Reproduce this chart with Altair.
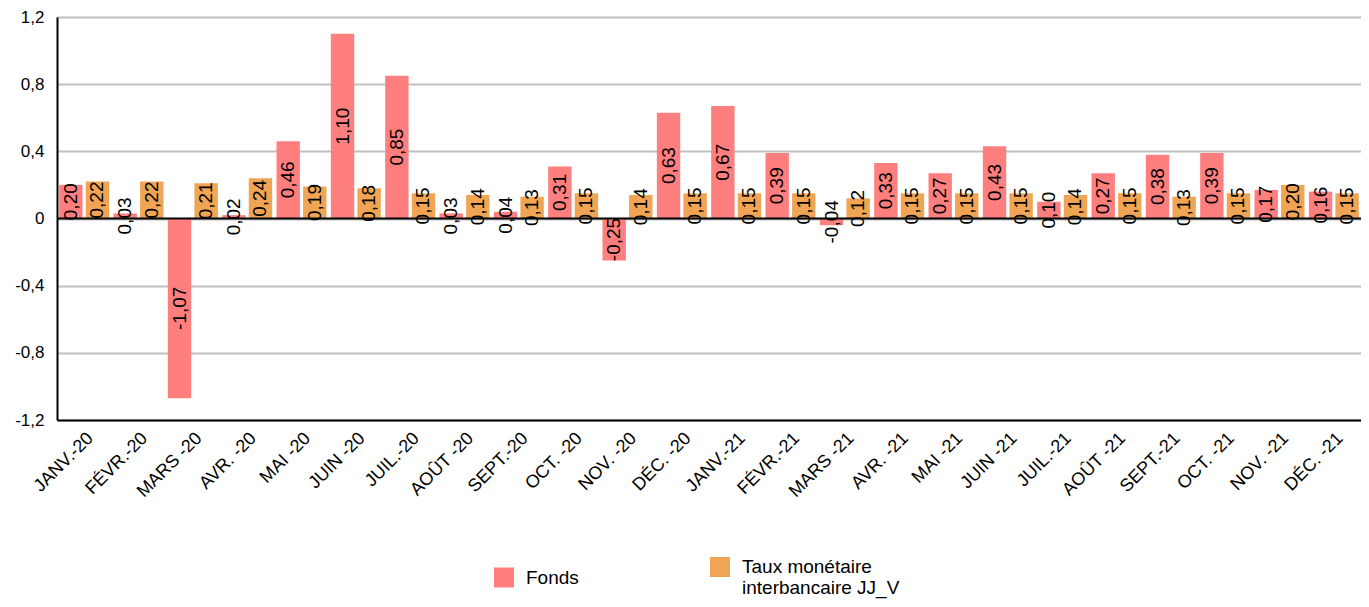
import altair as alt
import pandas as pd

months = ["JANV.-20", "FÉVR.-20", "MARS -20", "AVR. -20", "MAI -20", "JUIN -20",
          "JUIL.-20", "AOÛT -20", "SEPT.-20", "OCT. -20", "NOV. -20", "DÉC. -20",
          "JANV.-21", "FÉVR.-21", "MARS -21", "AVR. -21", "MAI -21", "JUIN -21",
          "JUIL.-21", "AOÛT -21", "SEPT.-21", "OCT. -21", "NOV. -21", "DÉC. -21"]
fonds = [0.20, 0.03, -1.07, 0.02, 0.46, 1.10, 0.85, 0.03, 0.04, 0.31, -0.25, 0.63,
         0.67, 0.39, -0.04, 0.33, 0.27, 0.43, 0.10, 0.27, 0.38, 0.39, 0.17, 0.16]
taux = [0.22, 0.22, 0.21, 0.24, 0.19, 0.18, 0.15, 0.14, 0.13, 0.15, 0.14, 0.15,
        0.15, 0.15, 0.12, 0.15, 0.15, 0.15, 0.14, 0.15, 0.13, 0.15, 0.20, 0.15]
series = ["Fonds", "Taux monétaire interbancaire JJ_V"]
colors = ["#FF7F7F", "#F0A555"]
y_ticks = [-1.2, -0.8, -0.4, 0, 0.4, 0.8, 1.2]

rows = []
for m, f, t in zip(months, fonds, taux):
    rows.append({"month": m, "series": series[0], "value": f, "label": f"{f:.2f}".replace(".", ",")})
    rows.append({"month": m, "series": series[1], "value": t, "label": f"{t:.2f}".replace(".", ",")})
df = pd.DataFrame(rows)

FONT = "Liberation Sans"

x_enc = alt.X("month:N", sort=months, title=None,
              scale=alt.Scale(paddingInner=0.08, paddingOuter=0.04),
              axis=alt.Axis(labelAngle=-45, labelFontSize=18, labelFont=FONT, labelColor="#000",
                            ticks=False, domainColor="#000", domainWidth=2, labelPadding=9))
xoff = alt.XOffset("series:N", sort=series, scale=alt.Scale(paddingInner=0.12))
y_scale = alt.Scale(domain=[-1.2, 1.2], nice=False)

base = alt.Chart(df)

bars = base.mark_bar().encode(
    x=x_enc,
    xOffset=xoff,
    y=alt.Y("value:Q", scale=y_scale, title=None,
            axis=alt.Axis(values=y_ticks, grid=True, gridColor="#C0C0C0", gridWidth=2,
                          ticks=False, domainColor="#000", domainWidth=2,
                          labelFontSize=17, labelFont=FONT, labelColor="#000", labelPadding=13,
                          labelExpr="datum.value == 0 ? '0' : replace(toString(datum.value), '.', ',')")),
    color=alt.Color("series:N", sort=series,
                    scale=alt.Scale(domain=series, range=colors),
                    legend=alt.Legend(title=None, orient="none", legendX=437, legendY=540,
                                      direction="horizontal", columns=2, columnPadding=131,
                                      symbolType="square", symbolSize=400, symbolStrokeWidth=0,
                                      symbolOffset=0, labelOffset=12,
                                      labelFontSize=19, labelFont=FONT, labelColor="#000",
                                      labelExpr="datum.label == 'Taux monétaire interbancaire JJ_V' ? ['Taux monétaire', 'interbancaire JJ_V'] : datum.label")),
)

zero = alt.Chart(pd.DataFrame({"y": [0]})).mark_rule(color="#000", strokeWidth=2).encode(
    y=alt.Y("y:Q", scale=y_scale))

texts = base.transform_calculate(mid="datum.value / 2").mark_text(
    angle=270, align="center", baseline="middle", fontSize=19, font=FONT, color="#000"
).encode(
    x=alt.X("month:N", sort=months),
    xOffset=xoff,
    y=alt.Y("mid:Q", scale=y_scale),
    text="label:N",
)

chart = alt.layer(bars, zero, texts).properties(
    width=1304, height=403,
    autosize=alt.AutoSizeParams(type="none"),
    padding={"left": 49, "top": 9, "right": 0, "bottom": 179},
).configure_view(stroke="#C0C0C0", strokeWidth=2).configure(background="white")

chart.save("out.html", embed_options={"renderer": "svg", "actions": False})
